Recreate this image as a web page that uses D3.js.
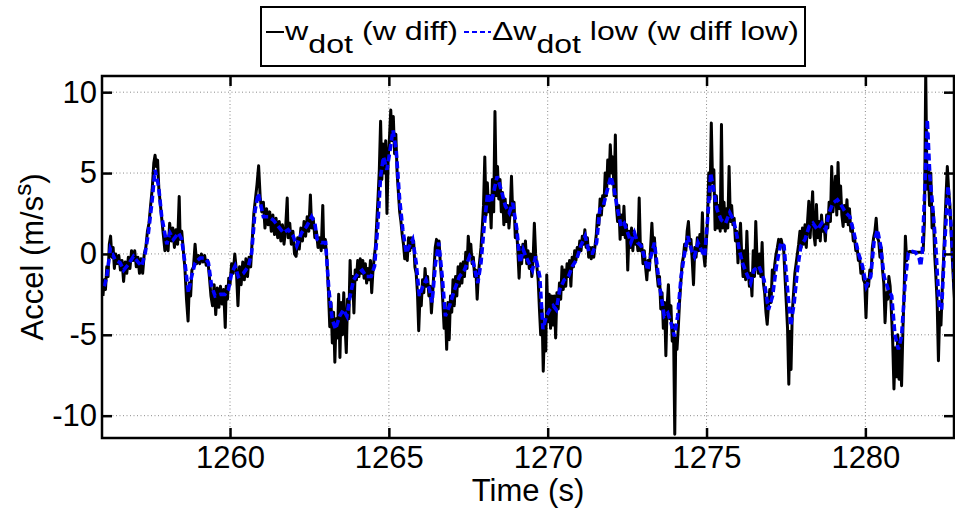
<!DOCTYPE html>
<html>
<head>
  <meta charset="utf-8">
  <title>w diff</title>
  <style>
    body { margin: 0; background: #fff; }
    svg { display: block; font-family: "Liberation Sans", Arial, sans-serif; }
  </style>
</head>
<body>
  <svg width="955" height="511"></svg>
  <script src="https://d3js.org/d3.v7.min.js"></script>
  <script>
    // tick values
    const xTicks = [1260, 1265, 1270, 1275, 1280];
    const yTicks = [-10, -5, 0, 5, 10];

    // w diff low (filtered), [time, accel]
    const lowPts = [
      [1256.04,-2.0],[1256.12,-1.4],[1256.23,0.3],[1256.38,-0.35],[1256.54,-0.55],[1256.65,-1.0],
      [1256.80,-0.65],[1256.96,-0.15],[1257.12,-0.55],[1257.22,-0.75],[1257.33,0.05],[1257.43,1.3],
      [1257.54,3.15],[1257.64,5.2],[1257.75,4.2],[1257.85,2.3],[1258.01,0.6],[1258.11,1.3],
      [1258.22,0.9],[1258.38,1.3],[1258.48,0.9],[1258.58,-0.55],[1258.69,-2.4],[1258.79,-1.4],
      [1258.90,-0.55],[1259.06,-0.25],[1259.21,-0.25],[1259.32,-0.55],[1259.42,-2.0],[1259.53,-2.6],
      [1259.69,-2.5],[1259.84,-2.5],[1259.95,-2.2],[1260.05,-1.2],[1260.16,-0.75],[1260.26,-1.4],
      [1260.42,-1.2],[1260.58,-0.75],[1260.68,0.05],[1260.79,2.7],[1260.89,3.75],[1261.05,2.3],
      [1261.21,2.3],[1261.36,2.1],[1261.52,1.7],[1261.68,1.3],[1261.83,1.5],[1261.99,1.1],
      [1262.10,0.5],[1262.25,1.3],[1262.41,1.7],[1262.57,2.3],[1262.67,1.9],[1262.74,0.9],
      [1262.87,0.7],[1263.01,0.7],[1263.11,-2.2],[1263.22,-4.05],[1263.32,-4.65],[1263.45,-3.85],
      [1263.57,-3.45],[1263.68,-3.85],[1263.78,-2.6],[1263.89,-1.6],[1264.03,-1.2],[1264.16,-1.0],
      [1264.29,-1.4],[1264.44,-1.4],[1264.55,-0.75],[1264.65,1.7],[1264.74,4.8],[1264.83,6.0],
      [1264.94,5.2],[1265.04,6.45],[1265.13,7.65],[1265.23,6.45],[1265.34,3.35],[1265.44,1.5],
      [1265.55,0.05],[1265.65,0.5],[1265.75,0.9],[1265.86,-0.55],[1265.96,-2.6],[1266.07,-2.0],
      [1266.17,-1.6],[1266.28,-2.2],[1266.36,-3.0],[1266.47,-0.55],[1266.57,0.7],[1266.68,-1.4],
      [1266.78,-3.85],[1266.91,-3.2],[1267.07,-2.2],[1267.22,-1.4],[1267.38,-1.0],[1267.54,-0.15],
      [1267.66,-0.55],[1267.80,-1.8],[1267.90,-0.55],[1268.01,1.9],[1268.11,3.75],[1268.22,3.15],
      [1268.32,4.0],[1268.41,4.8],[1268.53,4.0],[1268.67,2.95],[1268.79,2.55],[1268.90,3.15],
      [1269.03,1.5],[1269.13,-0.55],[1269.23,0.27],[1269.31,-0.15],[1269.41,-0.55],[1269.52,-1.0],
      [1269.62,-0.15],[1269.75,-1.4],[1269.85,-4.65],[1269.96,-3.85],[1270.06,-3.45],[1270.17,-3.2],
      [1270.27,-3.45],[1270.38,-2.2],[1270.52,-1.6],[1270.65,-1.4],[1270.78,-0.75],[1270.91,-0.35],
      [1271.04,0.5],[1271.18,1.1],[1271.31,0.05],[1271.41,0.05],[1271.54,0.7],[1271.64,2.75],
      [1271.75,2.95],[1271.85,3.75],[1271.99,4.8],[1272.09,4.0],[1272.20,2.75],[1272.31,1.7],
      [1272.41,1.9],[1272.52,1.3],[1272.62,0.7],[1272.73,1.3],[1272.83,0.7],[1272.94,0.5],
      [1273.04,-0.15],[1273.15,-1.0],[1273.25,-0.15],[1273.36,0.7],[1273.46,-1.0],[1273.57,-2.6],
      [1273.67,-3.85],[1273.78,-3.65],[1273.88,-4.25],[1273.99,-5.1],[1274.09,-3.85],[1274.20,-1.4],
      [1274.31,0.05],[1274.41,1.1],[1274.52,0.27],[1274.62,-0.15],[1274.73,0.7],[1274.83,0.27],
      [1274.94,-0.15],[1275.04,2.3],[1275.13,5.0],[1275.22,4.0],[1275.33,2.75],[1275.46,2.1],
      [1275.60,1.9],[1275.73,2.55],[1275.85,2.1],[1275.96,1.1],[1276.03,0.27],[1276.13,-0.55],
      [1276.26,-1.2],[1276.39,-1.8],[1276.49,-1.0],[1276.65,-0.75],[1276.81,-1.6],[1276.95,-3.45],
      [1277.08,-2.6],[1277.20,-0.75],[1277.34,0.7],[1277.44,0.5],[1277.55,-2.2],[1277.65,-4.45],
      [1277.76,-3.0],[1277.86,-1.0],[1277.97,0.5],[1278.10,0.9],[1278.23,1.7],[1278.35,1.9],
      [1278.49,1.5],[1278.63,1.9],[1278.75,1.5],[1278.86,2.55],[1278.98,3.15],[1279.12,3.35],
      [1279.26,2.95],[1279.38,2.55],[1279.51,2.3],[1279.64,1.3],[1279.78,0.05],[1279.91,-0.75],
      [1280.03,-2.0],[1280.17,-1.4],[1280.27,0.7],[1280.38,1.5],[1280.48,0.5],[1280.59,-1.4],
      [1280.72,-2.2],[1280.83,-2.6],[1280.93,-5.0],[1281.04,-5.9],[1281.14,-5.1],[1281.25,-1.8],
      [1281.35,0.05],[1281.48,0.15],[1281.58,0.1],[1281.69,-0.25],[1281.74,-0.75],[1281.79,0.05],
      [1281.87,4.0],[1281.95,8.3],[1282.03,4.8],[1282.11,3.15],[1282.21,0.7],[1282.32,-3.2],
      [1282.40,-3.45],[1282.50,0.7],[1282.60,4.2],[1282.70,1.7],[1282.82,-2.6]
    ];

    // w diff (raw), [time, accel]
    const rawPts = [
      [1256.00,-2.6],[1256.04,-1.6],[1256.08,-2.2],[1256.12,-0.8],[1256.16,-1.4],[1256.20,0.6],
      [1256.24,1.1],[1256.28,-0.2],[1256.32,0.4],[1256.36,-0.9],[1256.40,0.0],[1256.45,-0.6],
      [1256.50,-0.1],[1256.55,-1.0],[1256.60,-0.4],[1256.65,-1.7],[1256.70,-0.5],[1256.75,-1.2],
      [1256.80,-0.2],[1256.85,-0.9],[1256.90,0.2],[1256.95,-0.4],[1257.00,0.2],[1257.05,-0.8],
      [1257.10,-0.2],[1257.15,-1.2],[1257.20,-0.3],[1257.25,-1.2],[1257.30,0.0],[1257.35,0.4],
      [1257.40,1.4],[1257.45,1.9],[1257.50,3.0],[1257.55,4.0],[1257.60,5.6],[1257.64,6.1],
      [1257.68,5.4],[1257.72,5.8],[1257.76,4.0],[1257.80,3.2],[1257.85,2.2],[1257.90,1.2],
      [1257.95,0.2],[1258.00,1.0],[1258.05,0.2],[1258.10,1.9],[1258.15,0.8],[1258.20,1.6],
      [1258.25,0.4],[1258.30,1.5],[1258.35,0.6],[1258.40,3.55],[1258.43,0.9],[1258.48,1.4],
      [1258.53,0.2],[1258.58,-0.9],[1258.63,-2.8],[1258.68,-4.15],[1258.72,-1.8],[1258.76,-2.6],
      [1258.80,-1.0],[1258.85,-0.8],[1258.90,0.6],[1258.95,-0.6],[1259.00,-0.1],[1259.05,-0.6],
      [1259.10,0.0],[1259.15,-0.5],[1259.20,-0.1],[1259.25,-0.7],[1259.30,-0.4],[1259.35,-1.4],
      [1259.40,-2.6],[1259.45,-3.2],[1259.50,-1.9],[1259.55,-3.75],[1259.60,-2.1],[1259.65,-3.3],
      [1259.70,-2.0],[1259.75,-3.1],[1259.80,-2.2],[1259.85,-4.55],[1259.88,-2.0],[1259.92,-2.8],
      [1259.96,-1.5],[1260.00,-1.9],[1260.05,-0.6],[1260.10,-1.2],[1260.15,0.0],[1260.20,-1.0],
      [1260.25,-3.2],[1260.30,-0.8],[1260.35,-1.9],[1260.40,-0.5],[1260.45,-1.6],[1260.50,-0.3],
      [1260.55,-1.4],[1260.60,-0.2],[1260.65,-0.8],[1260.70,0.9],[1260.75,2.5],[1260.80,3.4],
      [1260.85,4.3],[1260.90,5.45],[1260.95,3.5],[1261.00,2.6],[1261.05,3.2],[1261.10,1.6],
      [1261.15,2.8],[1261.20,1.8],[1261.25,2.6],[1261.30,1.4],[1261.35,2.4],[1261.40,1.2],
      [1261.45,2.2],[1261.50,1.0],[1261.55,2.0],[1261.60,0.8],[1261.65,1.8],[1261.70,0.6],
      [1261.75,1.6],[1261.80,3.45],[1261.83,1.0],[1261.88,1.9],[1261.93,0.6],[1261.98,1.4],
      [1262.03,0.0],[1262.08,-0.15],[1262.13,1.0],[1262.18,0.3],[1262.23,1.6],[1262.28,0.8],
      [1262.33,2.0],[1262.38,1.1],[1262.43,2.3],[1262.48,1.4],[1262.53,3.65],[1262.57,1.6],
      [1262.62,2.2],[1262.67,1.0],[1262.72,1.4],[1262.77,0.4],[1262.82,1.0],[1262.87,0.2],
      [1262.92,3.0],[1262.95,0.4],[1263.00,0.9],[1263.05,-0.4],[1263.10,-2.4],[1263.14,-4.5],
      [1263.18,-3.0],[1263.22,-5.5],[1263.26,-3.6],[1263.30,-6.7],[1263.34,-4.0],[1263.38,-5.2],
      [1263.42,-2.5],[1263.46,-6.4],[1263.50,-3.0],[1263.54,-5.0],[1263.58,-2.4],[1263.62,-4.4],
      [1263.66,-6.1],[1263.70,-2.8],[1263.74,-4.0],[1263.78,-0.4],[1263.82,-2.6],[1263.86,-1.4],
      [1263.90,-3.65],[1263.94,-1.0],[1263.98,-1.6],[1264.02,-0.4],[1264.06,-1.4],[1264.10,-0.3],
      [1264.14,-1.2],[1264.18,-0.4],[1264.22,-1.5],[1264.26,-0.6],[1264.30,-1.8],[1264.34,-0.9],
      [1264.38,-1.6],[1264.42,-0.4],[1264.46,-2.4],[1264.50,-1.0],[1264.54,-0.2],[1264.58,0.5],
      [1264.62,2.0],[1264.66,3.5],[1264.70,5.2],[1264.74,8.2],[1264.78,4.6],[1264.82,6.8],
      [1264.86,5.0],[1264.90,7.0],[1264.94,2.5],[1264.98,6.0],[1265.02,7.2],[1265.06,8.9],
      [1265.10,7.0],[1265.14,8.5],[1265.18,6.2],[1265.22,7.4],[1265.26,5.0],[1265.30,3.8],
      [1265.34,2.6],[1265.38,2.0],[1265.42,1.2],[1265.46,0.6],[1265.50,-0.3],[1265.54,0.4],
      [1265.58,-0.4],[1265.62,1.0],[1265.66,0.2],[1265.70,1.0],[1265.74,0.4],[1265.78,0.8],
      [1265.82,-0.8],[1265.86,-1.2],[1265.90,-2.4],[1265.94,-4.75],[1265.98,-2.6],[1266.02,-3.2],
      [1266.06,-1.6],[1266.10,-2.4],[1266.14,-0.9],[1266.18,-2.0],[1266.22,-1.4],[1266.26,-2.6],
      [1266.30,-2.0],[1266.34,-3.65],[1266.38,-2.4],[1266.42,-1.0],[1266.46,0.4],[1266.50,0.9],
      [1266.54,0.2],[1266.58,0.8],[1266.62,-0.6],[1266.66,-1.6],[1266.70,-3.0],[1266.74,-4.6],
      [1266.78,-3.4],[1266.82,-5.9],[1266.86,-3.0],[1266.90,-5.3],[1266.94,-2.6],[1266.98,-3.6],
      [1267.02,-1.6],[1267.06,-3.2],[1267.10,-1.4],[1267.14,-2.6],[1267.18,-0.8],[1267.22,-2.0],
      [1267.26,-0.6],[1267.30,-1.8],[1267.34,-0.5],[1267.38,-1.4],[1267.42,0.1],[1267.46,-0.9],
      [1267.50,1.1],[1267.54,0.0],[1267.58,0.6],[1267.62,-0.6],[1267.66,-0.2],[1267.70,-1.4],
      [1267.74,-1.0],[1267.78,-2.8],[1267.82,-1.2],[1267.86,-0.4],[1267.90,0.4],[1267.94,1.6],
      [1267.98,3.0],[1268.02,6.0],[1268.06,2.4],[1268.10,4.4],[1268.14,2.6],[1268.18,3.6],
      [1268.22,1.6],[1268.26,4.6],[1268.30,2.6],[1268.34,8.8],[1268.38,3.6],[1268.42,5.4],
      [1268.46,3.4],[1268.50,4.6],[1268.54,2.6],[1268.58,3.8],[1268.62,1.8],[1268.66,3.4],
      [1268.70,2.0],[1268.74,3.0],[1268.78,1.6],[1268.82,2.6],[1268.86,4.8],[1268.90,2.4],
      [1268.94,3.2],[1268.98,1.0],[1269.02,1.6],[1269.06,0.2],[1269.10,-1.5],[1269.14,0.4],
      [1269.18,-0.6],[1269.22,0.6],[1269.26,-0.2],[1269.30,0.8],[1269.34,-0.6],[1269.38,0.2],
      [1269.42,-0.9],[1269.46,0.0],[1269.50,-1.4],[1269.54,-0.4],[1269.58,1.9],[1269.62,0.0],
      [1269.66,-0.8],[1269.70,-1.6],[1269.74,-3.4],[1269.78,-5.0],[1269.82,-3.4],[1269.86,-7.25],
      [1269.90,-4.5],[1269.94,-6.0],[1269.97,-1.3],[1270.01,-4.2],[1270.05,-2.5],[1270.09,-4.6],
      [1270.13,-2.6],[1270.17,-4.4],[1270.21,-2.6],[1270.25,-5.2],[1270.29,-2.4],[1270.33,-3.4],
      [1270.37,-1.8],[1270.41,-2.8],[1270.45,-0.8],[1270.49,-2.2],[1270.53,-1.0],[1270.57,-2.0],
      [1270.61,-0.6],[1270.65,-1.4],[1270.69,-0.4],[1270.73,-2.0],[1270.77,-0.2],[1270.81,-0.8],
      [1270.85,0.2],[1270.89,-0.4],[1270.93,0.4],[1270.97,0.0],[1271.01,0.8],[1271.05,0.2],
      [1271.09,1.1],[1271.13,0.6],[1271.17,1.5],[1271.21,0.4],[1271.25,1.0],[1271.29,-0.2],
      [1271.33,0.4],[1271.37,-0.3],[1271.41,0.4],[1271.45,-0.2],[1271.49,0.5],[1271.53,1.2],
      [1271.57,2.4],[1271.61,1.8],[1271.65,3.4],[1271.69,2.4],[1271.73,3.6],[1271.77,3.0],
      [1271.81,5.0],[1271.85,3.6],[1271.89,5.8],[1271.93,4.4],[1271.97,6.75],[1272.01,5.0],
      [1272.05,6.0],[1272.09,3.6],[1272.13,7.35],[1272.16,3.0],[1272.20,2.0],[1272.24,3.0],
      [1272.28,0.9],[1272.32,2.4],[1272.36,1.2],[1272.40,2.95],[1272.44,1.0],[1272.48,1.8],
      [1272.52,-1.0],[1272.56,1.4],[1272.60,0.4],[1272.64,1.6],[1272.68,0.2],[1272.72,1.4],
      [1272.76,0.6],[1272.80,1.0],[1272.84,0.2],[1272.88,3.45],[1272.92,0.2],[1272.96,0.6],
      [1273.00,-0.6],[1273.04,0.2],[1273.08,-0.8],[1273.12,-1.6],[1273.16,-0.4],[1273.20,-1.0],
      [1273.24,0.4],[1273.28,1.9],[1273.32,0.2],[1273.36,1.0],[1273.40,-0.4],[1273.44,-1.2],
      [1273.48,-2.0],[1273.52,-1.4],[1273.56,-3.4],[1273.60,-2.4],[1273.64,-4.6],[1273.68,-3.0],
      [1273.72,-6.3],[1273.76,-3.2],[1273.80,-1.9],[1273.84,-4.0],[1273.88,-3.2],[1273.92,-5.4],
      [1273.96,-4.4],[1274.00,-11.15],[1274.03,-5.2],[1274.07,-5.9],[1274.11,-4.6],[1274.15,-3.0],
      [1274.19,-1.8],[1274.23,-0.6],[1274.27,-0.2],[1274.31,0.6],[1274.35,0.2],[1274.39,1.4],
      [1274.43,2.0],[1274.47,0.6],[1274.51,0.9],[1274.55,-0.4],[1274.59,-1.9],[1274.63,0.4],
      [1274.67,-0.2],[1274.71,1.0],[1274.75,0.2],[1274.79,1.2],[1274.83,0.2],[1274.87,2.55],
      [1274.91,0.0],[1274.95,-0.75],[1274.99,0.6],[1275.03,2.0],[1275.07,5.0],[1275.11,3.4],
      [1275.15,8.1],[1275.19,4.4],[1275.23,5.2],[1275.27,1.5],[1275.31,3.6],[1275.35,1.6],
      [1275.39,3.0],[1275.43,1.4],[1275.47,8.0],[1275.51,1.6],[1275.55,3.2],[1275.59,1.4],
      [1275.63,2.8],[1275.67,1.6],[1275.71,5.4],[1275.75,2.0],[1275.79,3.0],[1275.83,1.8],
      [1275.87,2.2],[1275.91,0.8],[1275.95,1.4],[1275.99,-0.55],[1276.03,0.8],[1276.07,1.9],
      [1276.11,-0.2],[1276.15,-1.4],[1276.19,0.2],[1276.23,-1.6],[1276.27,1.4],[1276.31,-1.0],
      [1276.35,-2.0],[1276.39,-1.2],[1276.43,-2.6],[1276.47,0.2],[1276.51,-1.4],[1276.55,2.0],
      [1276.59,-0.4],[1276.63,-1.2],[1276.67,0.0],[1276.71,-1.4],[1276.75,0.7],[1276.79,-1.8],
      [1276.83,-2.4],[1276.87,-3.6],[1276.91,-4.35],[1276.95,-3.2],[1276.99,-2.2],[1277.03,-3.0],
      [1277.07,-1.0],[1277.11,-1.6],[1277.15,-0.6],[1277.19,0.0],[1277.23,0.4],[1277.27,0.9],
      [1277.31,0.7],[1277.35,0.9],[1277.39,0.5],[1277.43,0.2],[1277.47,-1.4],[1277.51,-3.0],
      [1277.55,-4.6],[1277.59,-8.05],[1277.62,-4.8],[1277.66,-7.15],[1277.70,-3.6],[1277.74,-2.4],
      [1277.78,-1.2],[1277.82,-0.6],[1277.86,0.0],[1277.90,0.6],[1277.94,1.4],[1277.98,0.4],
      [1278.02,1.6],[1278.06,0.6],[1278.10,1.8],[1278.14,0.4],[1278.18,2.0],[1278.22,3.25],
      [1278.26,1.0],[1278.30,2.4],[1278.34,3.85],[1278.38,1.2],[1278.42,0.55],[1278.46,3.05],
      [1278.50,1.0],[1278.54,2.0],[1278.58,0.8],[1278.62,2.4],[1278.66,1.4],[1278.70,1.8],
      [1278.74,0.8],[1278.78,2.4],[1278.82,1.6],[1278.86,3.2],[1278.90,2.0],[1278.94,5.4],
      [1278.98,2.6],[1279.02,3.6],[1279.06,4.8],[1279.10,2.4],[1279.14,5.65],[1279.18,2.8],
      [1279.22,4.2],[1279.26,2.4],[1279.30,1.7],[1279.34,3.0],[1279.38,2.0],[1279.42,3.35],
      [1279.46,1.8],[1279.50,2.8],[1279.54,1.4],[1279.58,1.8],[1279.62,0.8],[1279.66,1.0],
      [1279.70,0.2],[1279.74,0.4],[1279.78,-0.4],[1279.82,-0.2],[1279.86,-1.2],[1279.90,-0.8],
      [1279.94,-1.6],[1279.98,-1.8],[1280.02,-3.95],[1280.06,-1.6],[1280.10,-2.0],[1280.14,-1.0],
      [1280.18,-1.2],[1280.22,0.4],[1280.26,1.0],[1280.30,1.4],[1280.34,2.2],[1280.38,1.0],
      [1280.42,0.8],[1280.46,-0.2],[1280.50,0.4],[1280.54,-1.0],[1280.58,-1.8],[1280.62,-4.25],
      [1280.66,-2.4],[1280.70,-2.8],[1280.74,-1.4],[1280.78,-2.0],[1280.82,-3.6],[1280.86,-5.4],
      [1280.90,-8.35],[1280.94,-5.8],[1280.98,-7.6],[1281.02,-5.0],[1281.06,-7.75],[1281.10,-5.4],
      [1281.14,-8.15],[1281.18,-4.8],[1281.22,-2.4],[1281.26,1.1],[1281.30,-0.4],[1281.34,0.1],
      [1281.40,0.15],[1281.50,0.1],[1281.60,0.1],[1281.70,0.1],[1281.78,0.1],[1281.82,0.2],
      [1281.86,2.0],[1281.90,11.2],[1281.94,4.0],[1281.98,5.4],[1282.02,3.0],[1282.06,5.0],
      [1282.10,1.6],[1282.14,2.6],[1282.18,0.0],[1282.22,-1.4],[1282.26,-3.0],[1282.30,-6.6],
      [1282.34,-3.6],[1282.38,-4.4],[1282.42,-2.2],[1282.46,-0.4],[1282.50,1.6],[1282.54,3.6],
      [1282.58,5.4],[1282.62,4.0],[1282.66,3.0],[1282.70,1.4],[1282.74,-0.4],[1282.78,-2.0],
      [1282.82,-3.2],[1282.86,-4.0]
    ];

    const svg = d3.select("svg");
    const L = 102, R = 954, T = 76, B = 438;

    const x = d3.scaleLinear().domain([1255.97, 1282.79]).range([L, R]);
    const y = d3.scaleLinear().domain([-11.38, 11.0]).range([B, T]);

    svg.append("defs").append("clipPath").attr("id", "clip")
      .append("rect").attr("x", L).attr("y", T).attr("width", R - L).attr("height", B - T);

    // dotted grid
    const grid = svg.append("g").attr("stroke", "#8a8a8a").attr("stroke-width", 1)
      .attr("stroke-dasharray", "1,2.5");
    grid.selectAll(".gx").data(xTicks).enter().append("line")
      .attr("x1", d => x(d)).attr("x2", d => x(d)).attr("y1", T).attr("y2", B);
    grid.selectAll(".gy").data(yTicks).enter().append("line")
      .attr("x1", L).attr("x2", R).attr("y1", d => y(d)).attr("y2", d => y(d));

    const line = d3.line().x(d => x(d[0])).y(d => y(d[1]));
    const plot = svg.append("g").attr("clip-path", "url(#clip)");

    plot.append("path").datum(rawPts)
      .attr("fill", "none").attr("stroke", "#000").attr("stroke-width", 3)
      .attr("stroke-linejoin", "round").attr("d", line);

    plot.append("path").datum(lowPts)
      .attr("fill", "none").attr("stroke", "#0000ff").attr("stroke-width", 3.6)
      .attr("stroke-dasharray", "7,3.5").attr("d", line);

    // axes, ticks pointing inward like MATLAB
    const fmt = d => String(d);
    const axStyle = g => {
      g.select(".domain").remove();
      g.selectAll(".tick line").attr("stroke", "#000").attr("stroke-width", 2.5);
      g.selectAll(".tick text").attr("fill", "#000").attr("font-size", 31)
        .attr("font-family", "'Liberation Sans', Arial, sans-serif");
    };
    svg.append("g").attr("transform", `translate(0,${B})`)
      .call(d3.axisBottom(x).tickValues(xTicks).tickFormat(fmt).tickSize(-10).tickPadding(8))
      .call(axStyle);
    svg.append("g").attr("transform", `translate(0,${T})`)
      .call(d3.axisTop(x).tickValues(xTicks).tickFormat("").tickSize(-10))
      .call(axStyle);
    svg.append("g").attr("transform", `translate(${L},0)`)
      .call(d3.axisLeft(y).tickValues(yTicks).tickFormat(fmt).tickSize(-10).tickPadding(5))
      .call(axStyle);
    svg.append("g").attr("transform", `translate(${R},0)`)
      .call(d3.axisRight(y).tickValues(yTicks).tickFormat("").tickSize(-10))
      .call(axStyle);

    svg.append("rect").attr("x", L).attr("y", T).attr("width", R - L).attr("height", B - T)
      .attr("fill", "none").attr("stroke", "#000").attr("stroke-width", 2.5);

    // axis labels
    svg.append("text").attr("x", (L + R) / 2).attr("y", 501)
      .attr("text-anchor", "middle").attr("font-size", 31).text("Time (s)");

    const yl = svg.append("text").attr("transform", `translate(43,${(T + B) / 2}) rotate(-90)`)
      .attr("text-anchor", "middle").attr("font-size", 31);
    yl.append("tspan").text("Accel (m/s");
    yl.append("tspan").attr("dy", -12).attr("font-size", 24).text("s");
    yl.append("tspan").attr("dy", 12).text(")");

    // legend (text in the reference is drawn wide, so stretch it horizontally)
    const lg = svg.append("g");
    lg.append("rect").attr("x", 261).attr("y", 7).attr("width", 544).attr("height", 59)
      .attr("fill", "#fff").attr("stroke", "#000").attr("stroke-width", 2);
    lg.append("line").attr("x1", 266).attr("x2", 284).attr("y1", 32).attr("y2", 32)
      .attr("stroke", "#000").attr("stroke-width", 2);
    lg.append("line").attr("x1", 464).attr("x2", 491).attr("y1", 32).attr("y2", 32)
      .attr("stroke", "#0000ff").attr("stroke-width", 2).attr("stroke-dasharray", "5,3");

    function legendText(x0, x1, parts) {
      const g = lg.append("g");
      const t = g.append("text").attr("x", 0).attr("y", 40).attr("font-size", 25);
      t.append("tspan").text(parts[0]);
      t.append("tspan").attr("dy", 13).text("dot");
      t.append("tspan").attr("dy", -13).text(parts[1]);
      const w = t.node().getComputedTextLength();
      g.attr("transform", `translate(${x0},0) scale(${(x1 - x0) / w},1)`);
    }
    legendText(285, 458, ["w", " (w diff)"]);
    legendText(492, 799, ["\u0394w", " low (w diff low)"]);
  </script>
</body>
</html>
